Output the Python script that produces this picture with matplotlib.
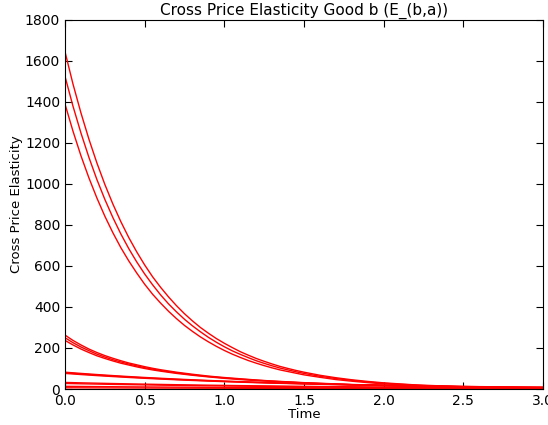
import numpy as np
import matplotlib
matplotlib.use("Agg")
import matplotlib.pyplot as plt

# time grids used when reading the curves off the picture
time = [round(0.1 * i, 1) for i in range(31)]
time_big = [round(0.05 * i, 2) for i in range(31)] + [round(1.5 + 0.1 * i, 1) for i in range(1, 16)]
time_mid = [round(0.05 * i, 2) for i in range(13)] + [round(0.6 + 0.1 * i, 1) for i in range(1, 25)]

# three steep curves
big_1 = [1645, 1488, 1347, 1219, 1103, 998, 903, 817, 739, 669, 605, 547, 496, 449, 406, 367,
         332, 300, 272, 246, 223, 202, 182, 165, 149, 135, 122, 110, 100, 90.5, 82,
         67, 55, 45, 37, 30, 25, 20, 17, 14, 11, 9, 7, 6, 5, 4]
big_2 = [1525, 1380, 1249, 1130, 1022, 925, 837, 757, 685, 620, 561, 508, 459, 415, 376, 340,
         308, 279, 252, 228, 206, 186, 169, 153, 138, 125, 113, 102, 93, 84, 76,
         62, 51, 42, 34, 28, 23, 19, 15, 13, 10, 8, 7, 6, 5, 4]
big_3 = [1390, 1258, 1138, 1030, 932, 843, 763, 690, 625, 566, 511, 462, 419, 379, 343, 310,
         281, 254, 230, 208, 188, 170, 154, 139, 126, 114, 103, 93, 85, 77, 69,
         57, 46, 38, 31, 25, 21, 17, 14, 11, 9, 8, 6, 5, 4, 3.5]

# middle group starting around 250
mid_1 = [263, 237, 215, 195, 178, 163, 150, 138, 127, 118, 109, 101, 94,
         82, 72, 63, 56, 50, 44, 39, 35, 31, 28, 25, 22, 20, 18, 16, 14, 12, 11, 10, 9, 8, 7, 6, 5]
mid_2 = [250, 226, 205, 187, 170, 156, 143, 132, 122, 113, 104, 97, 90,
         79, 69, 61, 54, 48, 43, 38, 34, 30, 27, 24, 21, 19, 17, 15, 13, 12, 11, 10, 9, 8, 7, 6, 5]
mid_3 = [237, 215, 195, 178, 162, 149, 137, 126, 117, 108, 100, 93, 87,
         76, 67, 59, 52, 46, 41, 37, 33, 29, 26, 23, 21, 19, 17, 15, 13, 12, 10, 9, 8, 7, 6, 5, 5]

# low group starting around 80
low_1 = [82, 76.1, 70.6, 65.5, 60.7, 56.3, 52.3, 48.5, 45.0, 41.7, 38.7, 35.9, 33.3, 30.9, 28.7, 26.6,
         24.7, 22.9, 21.2, 19.7, 18.3, 17.0, 15.7, 14.6, 13.5, 12.6, 11.6, 10.8, 10.0, 9.3, 8.6]
low_2 = [79, 73.3, 68.0, 63.1, 58.5, 54.3, 50.4, 46.7, 43.3, 40.2, 37.3, 34.6, 32.1, 29.8, 27.6, 25.6,
         23.8, 22.1, 20.5, 19.0, 17.6, 16.3, 15.2, 14.1, 13.0, 12.1, 11.2, 10.4, 9.7, 9.0, 8.3]
low_3 = [76, 70.5, 65.4, 60.7, 56.3, 52.2, 48.5, 45.0, 41.7, 38.7, 35.9, 33.3, 30.9, 28.6, 26.6, 24.7,
         22.9, 21.2, 19.7, 18.3, 17.0, 15.7, 14.6, 13.5, 12.6, 11.6, 10.8, 10.0, 9.3, 8.6, 8.0]

# curves hugging the axis
tiny_1 = [32, 30.1, 28.4, 26.7, 25.2, 23.7, 22.3, 21.0, 19.8, 18.6, 17.6, 16.5, 15.6, 14.7, 13.8, 13.0,
          12.2, 11.5, 10.9, 10.2, 9.6, 9.1, 8.5, 8.0, 7.6, 7.1, 6.7, 6.3, 5.9, 5.6, 5.3]
tiny_2 = [27, 25.4, 24.0, 22.5, 21.3, 20.0, 18.8, 17.7, 16.7, 15.7, 14.9, 13.9, 13.2, 12.4, 11.6, 11.0,
          10.3, 9.7, 9.2, 8.6, 8.1, 7.7, 7.2, 6.8, 6.4, 6.0, 5.7, 5.3, 5.0, 4.7, 4.5]
tiny_3 = [13, 12.4, 11.8, 11.2, 10.6, 10.1, 9.6, 9.1, 8.7, 8.3, 7.9, 7.5, 7.1, 6.8, 6.5, 6.2,
          5.8, 5.6, 5.3, 5.0, 4.8, 4.6, 4.3, 4.1, 3.9, 3.7, 3.5, 3.4, 3.2, 3.0, 2.9]
tiny_4 = [6, 5.7, 5.4, 5.2, 4.9, 4.7, 4.4, 4.2, 4.0, 3.8, 3.6, 3.5, 3.3, 3.1, 3.0, 2.8,
          2.7, 2.6, 2.4, 2.3, 2.2, 2.1, 2.0, 1.9, 1.8, 1.7, 1.6, 1.6, 1.5, 1.4, 1.3]

series = [(time_big, big_1), (time_big, big_2), (time_big, big_3),
          (time_mid, mid_1), (time_mid, mid_2), (time_mid, mid_3),
          (time, low_1), (time, low_2), (time, low_3),
          (time, tiny_1), (time, tiny_2), (time, tiny_3), (time, tiny_4)]

fig = plt.figure(figsize=(5.48, 4.25), dpi=100)
ax = fig.add_axes([0.1186, 0.0847, 0.8724, 0.8683])

for t, c in series:
    ax.plot(t, c, color="red", lw=1.0)

ax.set_xlim(0, 3)
ax.set_ylim(0, 1800)
ax.set_xticks(np.arange(0, 3.01, 0.5))
ax.set_yticks(np.arange(0, 1801, 200))
ax.tick_params(direction="in", top=True, right=True, length=5, labelsize=10)
ax.set_title("Cross Price Elasticity Good b (E_(b,a))", fontsize=11, pad=4)
ax.set_xlabel("Time", fontsize=9.5, labelpad=0)
ax.set_ylabel("Cross Price Elasticity", fontsize=9.5, labelpad=1)

fig.savefig("out.png", dpi=100)
